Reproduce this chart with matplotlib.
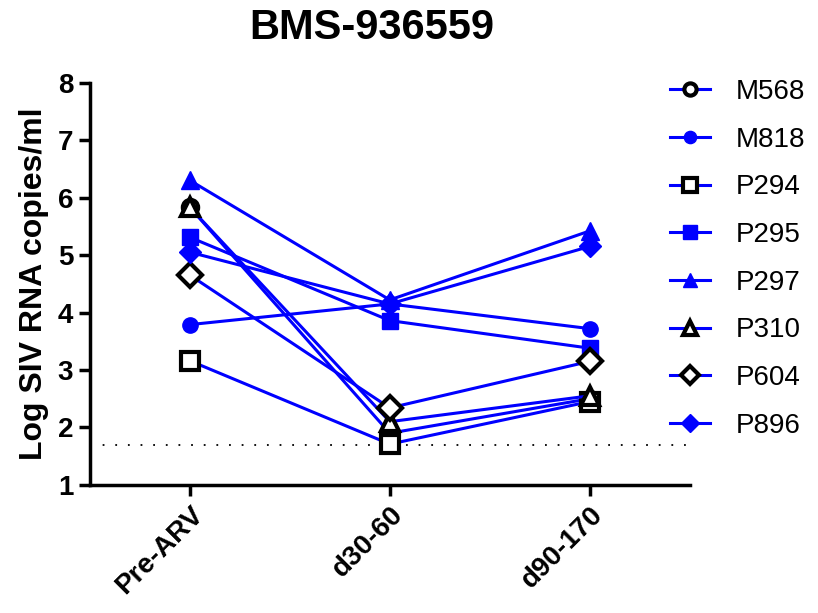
import matplotlib.pyplot as plt

plt.rcParams['font.family'] = ['Liberation Sans', 'DejaVu Sans']

timepoints = ["Pre-ARV", "d30-60", "d90-170"]
animals = ["M568", "M818", "P294", "P295", "P297", "P310", "P604", "P896"]

m568 = [5.83, 1.90, 2.50]
m818 = [3.79, 4.15, 3.72]
p294 = [3.16, 1.71, 2.45]
p295 = [5.31, 3.86, 3.38]
p297 = [6.30, 4.22, 5.42]
p310 = [5.83, 2.10, 2.55]
p604 = [4.65, 2.34, 3.15]
p896 = [5.05, 4.15, 5.15]

detection_limit = 1.7

series = [m568, m818, p294, p295, p297, p310, p604, p896]
markers = ["o", "o", "s", "s", "^", "^", "D", "D"]
open_marker = [True, False, True, False, False, True, True, False]
sizes = [11, 11, 13, 12, 13, 13, 12, 11]

fig = plt.figure(figsize=(8.18, 6.13), dpi=100)
ax = fig.add_axes([0.110, 0.209, 0.733, 0.656])

x = list(range(len(timepoints)))
for name, vals, mk, op, ms in zip(animals, series, markers, open_marker, sizes):
    if op:
        ax.plot(x, vals, color="blue", lw=2.2, marker=mk, ms=ms,
                mfc="white", mec="black", mew=3, label=name, zorder=3)
    else:
        ax.plot(x, vals, color="blue", lw=2.2, marker=mk, ms=ms,
                mfc="blue", mec="blue", label=name, zorder=3)

ax.axhline(detection_limit, color="black", ls=(0, (1, 6)), lw=1.3, zorder=1)

ax.set_xlim(-0.5, 2.5)
ax.set_ylim(1, 8)
ax.set_yticks(range(1, 9))
ax.set_xticks(x)
ax.set_xticklabels(timepoints, rotation=45, ha="right", rotation_mode="anchor",
                   fontsize=20, fontweight="bold")
for lbl in ax.get_yticklabels():
    lbl.set_fontsize(20)
    lbl.set_fontweight("bold")

ax.spines["top"].set_visible(False)
ax.spines["right"].set_visible(False)
ax.spines["left"].set_linewidth(2.5)
ax.spines["bottom"].set_linewidth(2.5)
ax.tick_params(direction="out", width=2.5, length=8, pad=4)

ax.set_ylabel("Log SIV RNA copies/ml", fontsize=23, fontweight="bold", labelpad=6)
fig.text(372 / 818, 1 - 28 / 613, "BMS-936559", fontsize=30, fontweight="bold",
         ha="center", va="center")

fig.legend(loc="upper left", bbox_to_anchor=(670 / 818, 1 - 79 / 613),
           frameon=False, fontsize=20, handlelength=1.45, labelspacing=0.78,
           handletextpad=0.9, markerscale=0.8, borderpad=0, borderaxespad=0)

fig.savefig("out.png", dpi=100)
